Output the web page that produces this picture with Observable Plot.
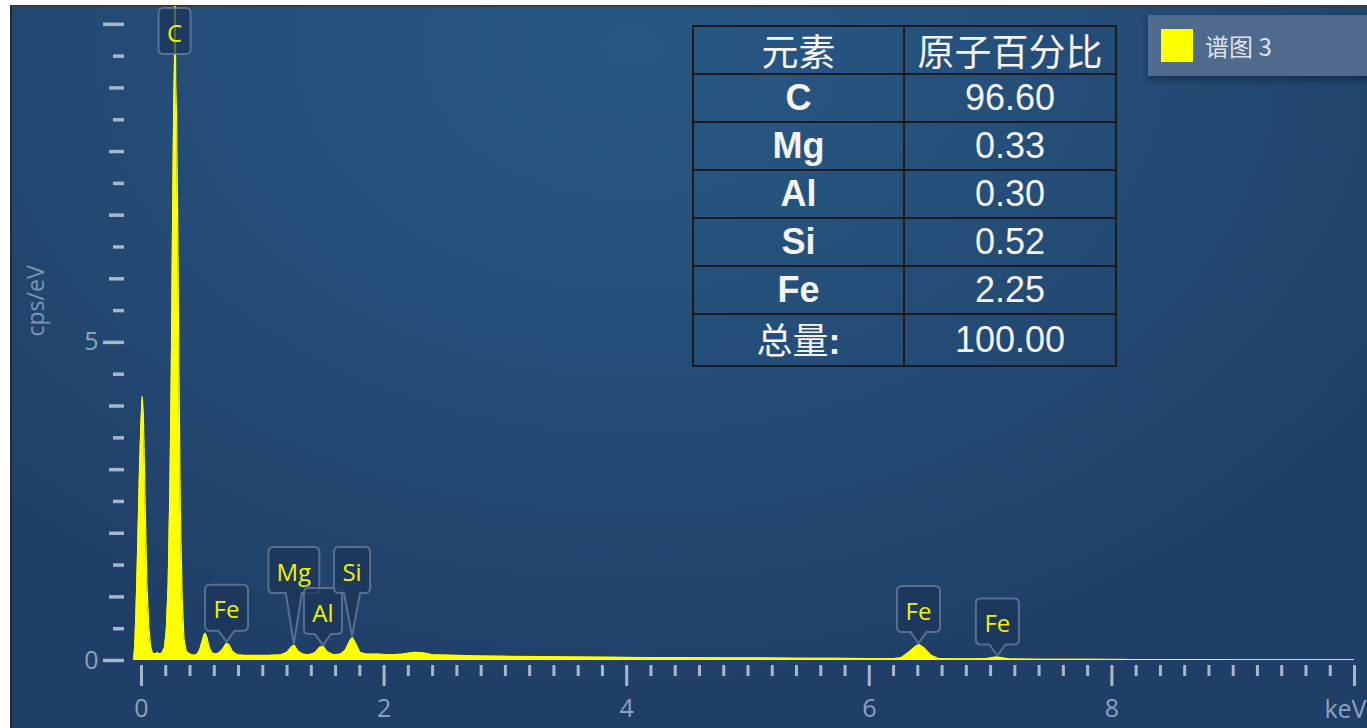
<!DOCTYPE html>
<html>
<head>
<meta charset="utf-8">
<script src="https://cdn.jsdelivr.net/npm/d3@7"></script>
<script src="https://cdn.jsdelivr.net/npm/@observablehq/plot@0.6"></script>
<style>
  html, body { margin: 0; padding: 0; background: #ffffff; width: 1367px; height: 728px; overflow: hidden; }
  #panel {
    position: absolute; left: 10px; top: 5px; width: 1357px; height: 723px;
    border-left: 2px solid #2a2a2a; border-top: 2px solid #3a3a3a;
    background: radial-gradient(ellipse 900px 650px at 620px 40px, #285783 0%, #25507c 40%, #22466f 75%, #203f68 100%);
  }
  #chart { position: absolute; left: 0; top: 0; }
  #tbl {
    position: absolute; left: 692px; top: 25px; border-collapse: collapse;
    border: 2px solid #1c1c1c; color: #f3f3f3;
  }
  #tbl td { border: 2px solid #1c1c1c; height: 46px; padding: 0; text-align: center; line-height: 46px; }
  #tbl td.h { font-family: "Noto Sans CJK SC", sans-serif; font-size: 37px; line-height: 44px; }
  #tbl td.el { font-family: "Liberation Sans", Arial, sans-serif; font-weight: bold; font-size: 36px; width: 209px; }
  #tbl td.v { font-family: "Liberation Sans", Arial, sans-serif; font-size: 36px; width: 210px; }
  #legend {
    position: absolute; left: 1148px; top: 15px; width: 240px; height: 61px;
    background: #4e6a8d; box-shadow: 0 4px 6px rgba(10,20,40,0.45);
  }
  #legend .sw { position: absolute; left: 13px; top: 14px; width: 32px; height: 33px; background: #ffff00; }
  #legend .tx { position: absolute; left: 57px; top: 0; line-height: 61px; font-family: "Noto Sans CJK SC", sans-serif; font-size: 24px; color: #dde3ec; }
</style>
</head>
<body>
<div id="panel"></div>
<div id="chart"></div>
<table id="tbl"></table>
<div id="legend"><div class="sw"></div><div class="tx"></div></div>
<script>
// ---- data ----
const seriesName = "谱图 3";

const energyKeV = [
  -0.065, -0.055, -0.045, -0.035, -0.025, -0.015, -0.005, 0.005, 0.015, 0.025, 0.035, 0.045, 0.06, 0.075, 0.09, 0.11, 0.13, 0.15, 0.17,
  0.19, 0.205, 0.22, 0.235, 0.245, 0.255, 0.265, 0.272, 0.277, 0.282, 0.29, 0.30, 0.31, 0.32, 0.335, 0.35, 0.37, 0.40, 0.43,
  0.46, 0.48, 0.50, 0.515, 0.525, 0.54, 0.56, 0.58, 0.61,
  0.64, 0.67, 0.70, 0.72, 0.75, 0.79, 0.85, 0.95, 1.05, 1.15,
  1.20, 1.24, 1.26, 1.29, 1.33, 1.38,
  1.43, 1.47, 1.50, 1.53, 1.58, 1.64,
  1.68, 1.72, 1.74, 1.77, 1.80, 1.85,
  1.95, 2.05, 2.15, 2.25, 2.32, 2.40, 2.60, 2.80, 3.00, 3.30, 3.60, 3.90, 4.20, 4.50, 4.80, 5.10, 5.40, 5.70, 6.00, 6.20,
  6.26, 6.32, 6.38, 6.41, 6.45, 6.51, 6.57, 6.70, 6.90,
  6.98, 7.03, 7.06, 7.10, 7.15, 7.40, 7.80, 8.20, 8.60, 9.00, 9.40, 9.80, 10.0
];
const cpsPerEV = [
  0.0, 0.25, 0.8, 1.5, 2.3, 3.1, 3.7, 4.15, 3.9, 3.0, 2.0, 1.2, 0.55, 0.22, 0.12, 0.1, 0.12, 0.1, 0.12,
  0.2, 0.5, 1.2, 2.8, 4.4, 6.6, 8.6, 9.4, 11.0, 9.1, 8.5, 6.6, 4.3, 2.4, 1.0, 0.35, 0.14, 0.1, 0.08,
  0.1, 0.17, 0.3, 0.4, 0.43, 0.36, 0.2, 0.12, 0.1,
  0.12, 0.18, 0.27, 0.25, 0.14, 0.09, 0.08, 0.08, 0.08, 0.09,
  0.13, 0.22, 0.24, 0.15, 0.1, 0.09,
  0.12, 0.21, 0.22, 0.14, 0.09, 0.1,
  0.16, 0.32, 0.36, 0.25, 0.13, 0.1,
  0.1, 0.09, 0.1, 0.13, 0.12, 0.09, 0.08, 0.07, 0.065, 0.06, 0.055, 0.05, 0.045, 0.045, 0.04, 0.04, 0.035, 0.035, 0.03, 0.03,
  0.04, 0.12, 0.22, 0.25, 0.2, 0.08, 0.03, 0.025, 0.025,
  0.035, 0.05, 0.055, 0.04, 0.025, 0.02, 0.02, 0.015, 0.015, 0.012, 0.012, 0.01, 0.01
];

const peakElements = ["C", "Fe", "Mg", "Al", "Si", "Fe", "Fe"];
const peakEnergies = [0.277, 0.705, 1.26, 1.50, 1.74, 6.41, 7.06];
const peakHeights  = [11.0, 0.27, 0.24, 0.22, 0.36, 0.25, 0.055];

const tableHeader = ["元素", "原子百分比"];
const tableElements = ["C", "Mg", "Al", "Si", "Fe", "总量:"];
const tableValues = ["96.60", "0.33", "0.30", "0.52", "2.25", "100.00"];

const xMajorTicks = [0, 2, 4, 6, 8, 10];
const yMajorTicks = [0, 5, 10];
const xUnit = "keV";
const yUnit = "cps/eV";

// ---- build ----
const spectrum = energyKeV.map((e, i) => ({e, v: cpsPerEV[i]}));
const peaks = peakElements.map((el, i) => ({el, e: peakEnergies[i], h: peakHeights[i]}));

const xMinor = d3.range(0, 10.0001, 0.2).map(d => +d.toFixed(1)).filter(d => !xMajorTicks.includes(d));
const yInt = d3.range(0, 11).filter(d => !yMajorTicks.includes(d));
const yHalf = d3.range(0.5, 10.5, 1);

const tickColor = "#a9b6c8";
const labelColor = "#8ea2bb";
const yellow = "#ffff00";
const raised = new Set(["Mg", "Si"]);

const measureCanvas = document.createElement("canvas").getContext("2d");
measureCanvas.font = "23px 'Open Sans'";

function callouts(index, scales) {
  const {x, y} = scales;
  const g = d3.create("svg:g");
  const boxH = 46, r = 5, notch = 8;
  const y0 = y(0);
  const yTop = y(y.domain()[1]);
  for (const p of peaks) {
    const cx = x(p.e);
    const w = Math.max(32, Math.round(measureCanvas.measureText(p.el).width) + 18);
    const L = cx - w / 2, R = cx + w / 2;
    let path, T, B;
    if (p.h > y.domain()[1]) {
      T = yTop + 2; B = T + boxH;
      path = `M${L + r},${T}H${R - r}Q${R},${T} ${R},${T + r}V${B - r}Q${R},${B} ${R - r},${B}H${L + r}Q${L},${B} ${L},${B - r}V${T + r}Q${L},${T} ${L + r},${T}Z`;
    } else {
      const tipY = y(p.h) - 1;
      B = raised.has(p.el) ? y0 - 67 : tipY - 11;
      T = B - boxH;
      path = `M${L + r},${T}H${R - r}Q${R},${T} ${R},${T + r}V${B - r}Q${R},${B} ${R - r},${B}H${cx + notch}L${cx},${tipY}L${cx - notch},${B}H${L + r}Q${L},${B} ${L},${B - r}V${T + r}Q${L},${T} ${L + r},${T}Z`;
    }
    g.append("path").attr("d", path)
      .attr("fill", "#1a3558").attr("fill-opacity", 0.72)
      .attr("stroke", "#6a82a2").attr("stroke-opacity", 0.75).attr("stroke-width", 2);
    g.append("text").attr("x", cx).attr("y", (T + B) / 2 + 1)
      .attr("text-anchor", "middle").attr("dominant-baseline", "central")
      .attr("fill", "#f2f200").attr("font-family", "'Open Sans', sans-serif").attr("font-size", 24)
      .text(p.el);
  }
  return g.node();
}

const chart = Plot.plot({
  width: 1367,
  height: 728,
  marginLeft: 132.5,
  marginRight: 13,
  marginTop: 6,
  marginBottom: 68,
  style: {background: "transparent", fontFamily: "'Open Sans', sans-serif", overflow: "visible"},
  x: {domain: [-0.07, 10]},
  y: {domain: [0, 10.28]},
  marks: [
    Plot.axisX({ticks: xMinor, tickSize: 11, dy: 5, tickFormat: () => "", stroke: tickColor, strokeWidth: 3, label: null}),
    Plot.axisX({ticks: xMajorTicks, tickSize: 21, tickPadding: 13, dy: 5, stroke: tickColor, strokeWidth: 3,
      tickFormat: d => d === 10 ? "" : String(d), fill: labelColor, fontSize: 25, label: null}),
    Plot.text([xUnit], {x: 10, frameAnchor: "bottom", textAnchor: "end", dx: 12, dy: 57, fill: labelColor, fontSize: 25}),
    Plot.axisY({ticks: yHalf, tickSize: 11, dx: -8.5, tickFormat: () => "", stroke: tickColor, strokeWidth: 3.5, label: null}),
    Plot.axisY({ticks: yInt, tickSize: 15, dx: -8.5, tickFormat: () => "", stroke: tickColor, strokeWidth: 3.5, label: null}),
    Plot.axisY({ticks: yMajorTicks, tickSize: 21, tickPadding: 5, dx: -8.5, stroke: tickColor, strokeWidth: 3.5,
      tickFormat: d => d === 10 ? "" : String(d), fill: labelColor, fontSize: 25, label: null}),
    Plot.text([yUnit], {frameAnchor: "left", dx: -96, dy: 3, rotate: -90, fill: "#7f95b1", fontSize: 23}),
    Plot.areaY(spectrum, {x: "e", y: "v", fill: yellow, clip: true}),
    Plot.lineY(spectrum, {x: "e", y: "v", stroke: yellow, strokeWidth: 1.2, clip: true}),
    callouts
  ]
});
document.getElementById("chart").appendChild(chart);

// table
const tbl = d3.select("#tbl");
const hr = tbl.append("tr");
hr.append("td").attr("class", "h").text(tableHeader[0]);
hr.append("td").attr("class", "h").text(tableHeader[1]);
tableElements.forEach((el, i) => {
  const tr = tbl.append("tr");
  const td = tr.append("td").attr("class", "el");
  if (/:$/.test(el)) {
    td.append("span").style("font-family", "'Noto Sans CJK SC'").style("font-weight", "normal").style("font-size", "36px").text(el.slice(0, -1));
    td.append("span").text(":");
  } else {
    td.text(el);
  }
  tr.append("td").attr("class", "v").text(tableValues[i]);
});

d3.select("#legend .tx").text(seriesName);
</script>
</body>
</html>
